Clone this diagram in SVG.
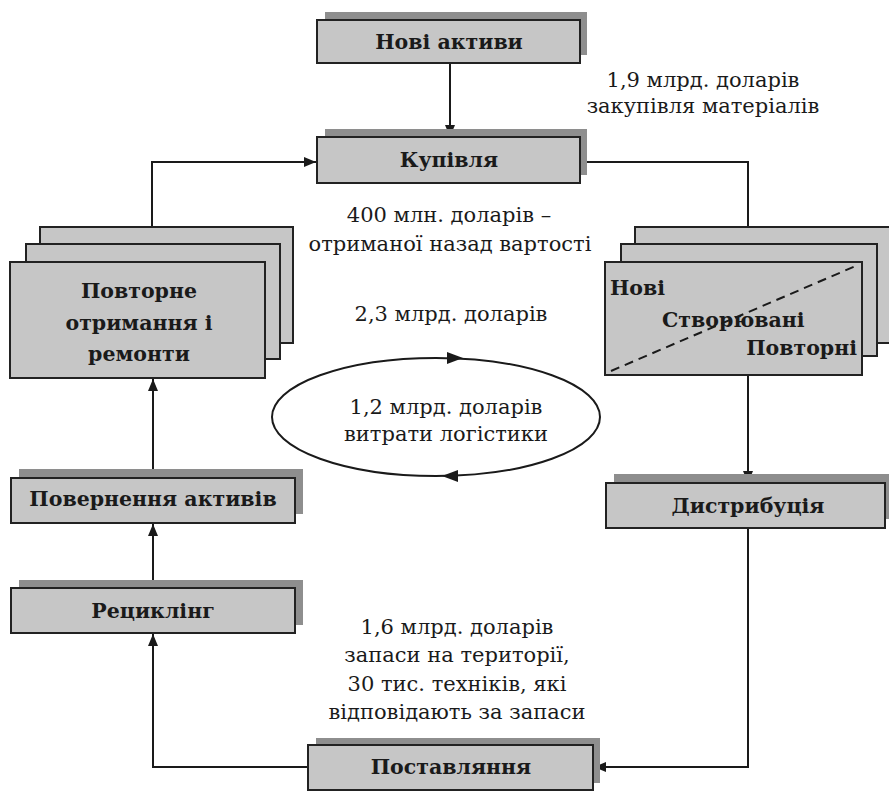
<svg xmlns="http://www.w3.org/2000/svg" width="889" height="792" viewBox="0 0 889 792">
<style>
.box{fill:#c6c6c6;stroke:#222;stroke-width:2}
.sh{fill:#8e8e8e;stroke:none}
text{font-family:"DejaVu Serif","Liberation Serif",serif;font-size:21px;fill:#1a1a1a}
.lbl{font-weight:bold;font-size:20.5px}
.mid{text-anchor:middle}
.ln{fill:none;stroke:#1a1a1a;stroke-width:2}
</style>
<defs>
<marker id="arr" viewBox="0 0 12 10" refX="12" refY="5" markerWidth="12" markerHeight="10" markerUnits="userSpaceOnUse" orient="auto">
<path d="M0,0 L12,5 L0,10 Z" fill="#1a1a1a"/>
</marker>
</defs>
<rect width="889" height="792" fill="#fff"/>

<g id="connectors">
<path class="ln" d="M450,63 V137" marker-end="url(#arr)"/>
<path class="ln" d="M580,162 H748 V227"/>
<path class="ln" d="M748,375 V483" marker-end="url(#arr)"/>
<path class="ln" d="M748,528 V767 H594" marker-end="url(#arr)"/>
<path class="ln" d="M308,767 H153 V634" marker-end="url(#arr)"/>
<path class="ln" d="M153,588 V524" marker-end="url(#arr)"/>
<path class="ln" d="M153,478 V379" marker-end="url(#arr)"/>
<path class="ln" d="M152,227 V162 H316" marker-end="url(#arr)"/>
</g>

<g id="new-assets">
<rect class="sh" x="325" y="12" width="262" height="43"/>
<rect class="box" x="317" y="20" width="263" height="43"/>
<text class="lbl mid" x="449" y="49">Нові активи</text>
</g>

<g id="purchase">
<rect class="sh" x="325" y="129" width="262" height="46"/>
<rect class="box" x="317" y="137" width="263" height="46"/>
<text class="lbl mid" x="449" y="167">Купівля</text>
</g>

<g id="repair">
<rect class="box" x="40" y="227" width="253" height="116"/>
<rect class="box" x="26" y="244" width="254" height="115"/>
<rect class="box" x="10" y="262" width="255" height="116"/>
<text class="lbl mid" x="139" y="298">Повторне</text>
<text class="lbl mid" x="139" y="330">отримання і</text>
<text class="lbl mid" x="139" y="361">ремонти</text>
</g>

<g id="products">
<rect class="box" x="635" y="227" width="262" height="116"/>
<rect class="box" x="621" y="244" width="256" height="112"/>
<rect class="box" x="605" y="262" width="257" height="113"/>
<line x1="611" y1="371" x2="858" y2="265" stroke="#1a1a1a" stroke-width="2" stroke-dasharray="9,6"/>
<text class="lbl" x="610" y="295">Нові</text>
<text class="lbl" x="662" y="327">Створювані</text>
<text class="lbl" x="857" y="355" text-anchor="end">Повторні</text>
</g>

<g id="return">
<rect class="sh" x="19" y="469" width="284" height="45"/>
<rect class="box" x="11" y="478" width="284" height="45"/>
<text class="lbl mid" x="153" y="506">Повернення активів</text>
</g>

<g id="recycling">
<rect class="sh" x="19" y="580" width="284" height="45"/>
<rect class="box" x="11" y="588" width="284" height="45"/>
<text class="lbl mid" x="153" y="618">Рециклінг</text>
</g>

<g id="distribution">
<rect class="sh" x="614" y="474" width="280" height="45"/>
<rect class="box" x="606" y="483" width="279" height="45"/>
<text class="lbl mid" x="748" y="513">Дистрибуція</text>
</g>

<g id="delivery">
<rect class="sh" x="316" y="738" width="284" height="45"/>
<rect class="box" x="308" y="745" width="285" height="45"/>
<text class="lbl mid" x="451" y="774">Поставляння</text>
</g>

<g id="logistics">
<ellipse cx="436" cy="417" rx="164" ry="59" class="ln"/>
<path d="M447,352 L463,358 L447,364 Z" fill="#1a1a1a"/>
<path d="M458,470 L442,476 L458,482 Z" fill="#1a1a1a"/>
<text class="mid" x="446" y="414">1,2 млрд. доларів</text>
<text class="mid" x="446" y="441">витрати логістики</text>
</g>

<g id="labels">
<text class="mid" x="703" y="87">1,9 млрд. доларів</text>
<text class="mid" x="703" y="113">закупівля матеріалів</text>
<text class="mid" x="449" y="222">400 млн. доларів –</text>
<text class="mid" x="450" y="251">отриманої назад вартості</text>
<text class="mid" x="451" y="321">2,3 млрд. доларів</text>
<text class="mid" x="457" y="634">1,6 млрд. доларів</text>
<text class="mid" x="457" y="662">запаси на території,</text>
<text class="mid" x="457" y="691">30 тис. техніків, які</text>
<text class="mid" x="457" y="719">відповідають за запаси</text>
</g>
</svg>
